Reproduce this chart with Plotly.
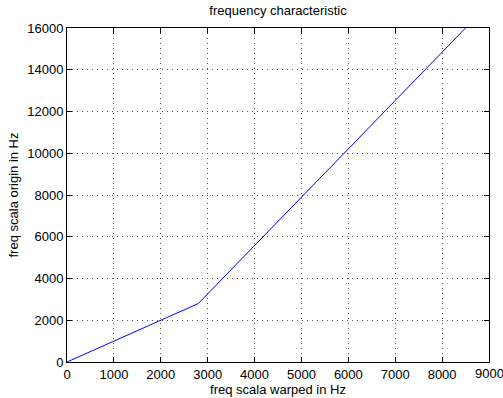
import plotly.graph_objects as go

warped_hz = [0, 2800, 8500]
origin_hz = [0, 2800, 16000]
x_ticks = [0, 1000, 2000, 3000, 4000, 5000, 6000, 7000, 8000, 9000]
y_ticks = [0, 2000, 4000, 6000, 8000, 10000, 12000, 14000, 16000]

FS = 13
fig = go.Figure()
fig.add_trace(go.Scatter(x=warped_hz, y=origin_hz, mode="lines",
                         line=dict(color="#0000ff", width=1), showlegend=False))

axis_common = dict(
    showline=True, linecolor="black", linewidth=1, mirror="ticks",
    ticks="inside", ticklen=5, tickcolor="black",
    showgrid=True, gridcolor="#555555", griddash="1px,4px", gridwidth=1,
    zeroline=False, tickfont=dict(size=FS, color="black"), automargin=False,
)
fig.update_xaxes(range=[0, 9000], tickvals=x_ticks,
                 ticktext=[str(v) if v != x_ticks[-1] else "" for v in x_ticks],
                 title=dict(text="freq scala warped in Hz", font=dict(size=FS, color="black"), standoff=0),
                 **axis_common)
fig.update_yaxes(range=[0, 16000], tickvals=y_ticks, ticktext=[str(v) for v in y_ticks],
                 title=dict(text="freq scala origin in Hz", font=dict(size=FS, color="black"), standoff=5),
                 **axis_common)

# last x tick label (clipped at the window edge as in the reference)
fig.add_annotation(x=x_ticks[-1], xref="x", y=0, yref="paper", yanchor="top", yshift=-2,
                   text=str(x_ticks[-1]), showarrow=False, font=dict(size=FS, color="black"))

fig.update_layout(
    width=503, height=398,
    margin=dict(l=67, r=14, t=28, b=36),
    paper_bgcolor="white", plot_bgcolor="white",
    font=dict(family="Liberation Sans, Arial, sans-serif", size=FS, color="black"),
    title=dict(text="frequency characteristic", x=0.5, xanchor="center", xref="paper",
               y=1, yref="container", yanchor="top", pad=dict(t=6),
               font=dict(size=FS, color="black")),
)
fig.write_html("out.html")
